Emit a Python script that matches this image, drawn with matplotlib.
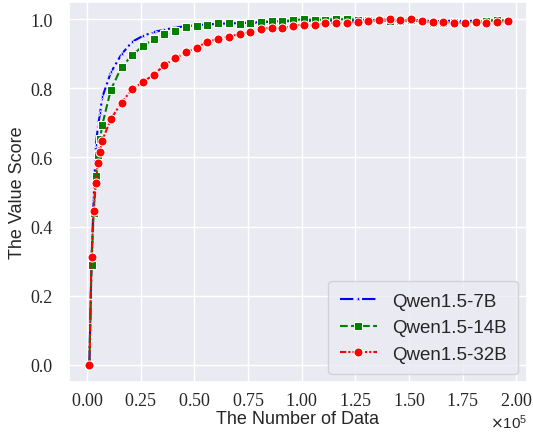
import matplotlib
matplotlib.use("Agg")
import matplotlib.pyplot as plt
import seaborn as sns

x_data = [1000, 2000, 3000, 4000, 5000, 6000, 7000,
          11000, 16000, 21000, 26000, 31000, 36000, 41000, 46000, 51000, 56000,
          61000, 66000, 71000, 76000, 81000, 86000, 91000, 96000, 101000, 106000,
          111000, 116000, 121000, 126000, 131000, 136000, 141000, 146000, 151000,
          156000, 161000, 166000, 171000, 176000, 181000, 186000, 191000, 196000]

qwen_7b = [0.0, 0.30, 0.48, 0.635, 0.69, 0.73, 0.774,
           0.846, 0.899, 0.935, 0.952, 0.963, 0.970, 0.976, 0.980, 0.983, 0.985,
           0.987, 0.988, 0.989, 0.990, 0.992, 0.993, 0.994, 0.995, 0.996, 0.996,
           0.997, 0.996, 0.997, 0.996, 0.997, 0.996, 0.995, 0.996, 0.997,
           0.996, 0.995, 0.995, 0.996, 0.995, 0.996, 0.996, 0.997, 0.996]

qwen_14b = [0.0, 0.290, 0.44, 0.545, 0.606, 0.654, 0.694,
            0.796, 0.862, 0.896, 0.923, 0.943, 0.956, 0.966, 0.978, 0.981, 0.983,
            0.988, 0.988, 0.987, 0.988, 0.992, 0.994, 0.994, 0.998, 1.0, 0.998,
            0.999, 1.0, 1.0, 0.999, 0.998, 0.998, 0.995, 0.996, 0.997,
            0.994, 0.990, 0.990, 0.993, 0.990, 0.993, 0.995, 0.998, 0.996]

qwen_32b = [0.0, 0.311, 0.445, 0.526, 0.584, 0.617, 0.649,
            0.711, 0.759, 0.798, 0.818, 0.840, 0.867, 0.887, 0.904, 0.918, 0.935,
            0.943, 0.950, 0.957, 0.963, 0.971, 0.976, 0.974, 0.981, 0.984, 0.982,
            0.990, 0.989, 0.990, 0.993, 0.996, 0.998, 1.000, 0.997, 1.000,
            0.995, 0.993, 0.993, 0.990, 0.988, 0.993, 0.990, 0.991, 0.995]

labels = ["Qwen1.5-7B", "Qwen1.5-14B", "Qwen1.5-32B"]

sns.set_theme(style="darkgrid")
plt.rcParams['font.family'] = ['Liberation Sans', 'DejaVu Sans']

fig = plt.figure(figsize=(5.33, 4.35), dpi=100)
ax = fig.add_axes([69/533, 1-383/435, (527-69)/533, (383-3)/435])

ax.plot(x_data, qwen_7b, color='blue', linestyle='-.', linewidth=1.5,
        marker='*', markersize=5, markeredgecolor='white', markeredgewidth=0.5,
        label=labels[0])
ax.plot(x_data, qwen_14b, color='green', linestyle='--', linewidth=1.5,
        marker='s', markersize=6, markeredgecolor='white', markeredgewidth=0.75,
        label=labels[1])
ax.plot(x_data, qwen_32b, color='red', linestyle=(0, (3, 1, 1, 1, 1, 1)), linewidth=1.5,
        marker='o', markersize=6.5, markeredgecolor='white', markeredgewidth=0.75,
        label=labels[2])

ax.set_xlim(-8500, 205000)
ax.set_ylim(-0.05, 1.05)
ax.set_xticks([0, 25000, 50000, 75000, 100000, 125000, 150000, 175000, 200000])
ax.set_yticks([0.0, 0.2, 0.4, 0.6, 0.8, 1.0])
ax.ticklabel_format(style='sci', axis='x', scilimits=(0, 0), useMathText=True)

ax.tick_params(axis='both', labelsize=13, labelfontfamily='Liberation Serif')
ax.tick_params(axis='y', pad=6)
ax.tick_params(axis='x', pad=1)
ax.xaxis.get_offset_text().set_fontsize(11)

ax.set_xlabel("The Number of Data", fontsize=13, labelpad=1)
ax.set_ylabel("The Value Score", fontsize=13, labelpad=3)

ax.legend(loc='lower right', fontsize=13.5, handlelength=2.0, borderpad=0.6,
          bbox_to_anchor=(518/533, 1-375/435), bbox_transform=fig.transFigure,
          borderaxespad=0)

fig.savefig("out.png", dpi=100)
